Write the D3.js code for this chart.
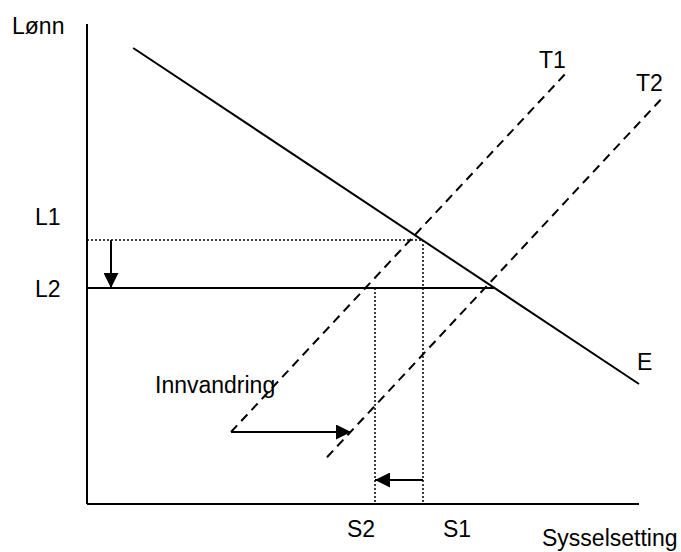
<!DOCTYPE html>
<meta charset="utf-8">
<head>
<style>
    body {
      margin: 0;
      background: #fff;
    }
    svg {
      font-family: 'Liberation Sans', Arial, sans-serif;
      font-size: 23px;
    }
    .axis {
      stroke: #000;
      stroke-width: 2px;
    }
    .solid {
      stroke: #000;
      stroke-width: 2px;
      fill: none;
    }
    .dashed {
      stroke: #000;
      stroke-width: 2px;
      stroke-dasharray: 9,6;
      fill: none;
    }
    .dotted {
      stroke: #000;
      stroke-width: 1.5px;
      stroke-dasharray: 2,2;
      fill: none;
    }
</style>
</head>
<body>
<svg width="681" height="552"></svg>
<script src="https://d3js.org/d3.v7.min.js"></script>
<script>

// curves (employment, wage)
var curveE  = [[7.7, 76], [92, 20]];
var curveT1 = [[24, 12], [80, 72]];
var curveT2 = [[40, 7.8], [96, 67.8]];

// wage levels and employment levels
var wageNames = ["L1", "L2"];
var wageValues = [44, 36];
var empNames = ["S2", "S1"];
var empValues = [48, 56];

// shift arrows: [from, to]
var wageArrow = [[4, 44], [4, 36]];
var empArrow = [[56, 4], [48, 4]];
var migrArrow = [[24, 12], [44, 12]];

var svg = d3.select('svg');

var x = d3.scaleLinear().domain([0, 100]).range([87, 687]);
var y = d3.scaleLinear().domain([0, 80]).range([504, 24]);

var line = d3.line().x(d => x(d[0])).y(d => y(d[1]));

svg.append('defs').append('marker')
    .attr('id', 'head')
    .attr('viewBox', '0 0 10 10')
    .attr('refX', 10)
    .attr('refY', 5)
    .attr('markerUnits', 'userSpaceOnUse')
    .attr('markerWidth', 16)
    .attr('markerHeight', 15)
    .attr('orient', 'auto')
  .append('path')
    .attr('d', 'M0,0 L10,5 L0,10 Z')
    .attr('fill', '#000');

// axes
svg.append('line').attr('class', 'axis')
    .attr('x1', x(0)).attr('y1', y(80))
    .attr('x2', x(0)).attr('y2', y(0));
svg.append('line').attr('class', 'axis')
    .attr('x1', x(0)).attr('y1', y(0))
    .attr('x2', x(92)).attr('y2', y(0));

// L1 dotted, L2 solid
svg.append('line').attr('class', 'dotted')
    .attr('x1', x(0)).attr('y1', y(wageValues[0]))
    .attr('x2', x(empValues[1])).attr('y2', y(wageValues[0]));
svg.append('line').attr('class', 'solid')
    .attr('x1', x(0)).attr('y1', y(wageValues[1]))
    .attr('x2', x(68)).attr('y2', y(wageValues[1]));

// S1 from L1, S2 from L2
svg.append('line').attr('class', 'dotted')
    .attr('x1', x(empValues[1])).attr('y1', y(wageValues[0]))
    .attr('x2', x(empValues[1])).attr('y2', y(0));
svg.append('line').attr('class', 'dotted')
    .attr('x1', x(empValues[0])).attr('y1', y(wageValues[1]))
    .attr('x2', x(empValues[0])).attr('y2', y(0));

svg.append('path').datum(curveE).attr('class', 'solid').attr('d', line);
svg.append('path').datum(curveT1).attr('class', 'dashed').attr('d', line);
svg.append('path').datum(curveT2).attr('class', 'dashed').attr('d', line);

[wageArrow, empArrow, migrArrow].forEach(function(a) {
  svg.append('path').datum(a)
    .attr('class', 'solid')
    .attr('d', line)
    .attr('marker-end', 'url(#head)');
});

// labels
svg.append('text').attr('x', 12).attr('y', 34).text('Lønn');
svg.append('text').attr('x', 542).attr('y', 546).text('Sysselsetting');

svg.selectAll('.wlab')
    .data(wageNames)
  .enter().append('text')
    .attr('class', 'wlab')
    .attr('x', 35)
    .attr('y', (d, i) => i == 0 ? y(wageValues[i]) - 15 : y(wageValues[i]) + 9)
    .text(d => d);

svg.selectAll('.slab')
    .data(empNames)
  .enter().append('text')
    .attr('class', 'slab')
    .attr('x', (d, i) => x(empValues[i]) + (i == 0 ? -28 : 20))
    .attr('y', 537)
    .text(d => d);

svg.append('text').attr('x', x(curveT1[1][0]) - 28).attr('y', y(curveT1[1][1]) - 4).text('T1');
svg.append('text').attr('x', x(curveT2[1][0]) - 27).attr('y', y(curveT2[1][1]) - 6).text('T2');
svg.append('text').attr('x', x(curveE[1][0]) - 2).attr('y', y(curveE[1][1]) - 14).text('E');
svg.append('text').attr('x', 155).attr('y', 393).text('Innvandring');

</script>
</body>
